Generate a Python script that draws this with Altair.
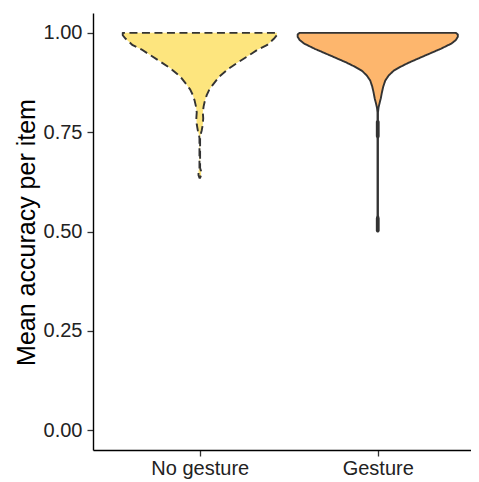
import altair as alt
import pandas as pd

categories = ["No gesture", "Gesture"]
positions = [1, 2]

# Violin outline: accuracy level and relative half-width (1 = widest)
nog_acc = [1.000, 0.994, 0.985, 0.969, 0.958, 0.948, 0.927, 0.910, 0.890, 0.869,
           0.857, 0.844, 0.830, 0.815, 0.800, 0.785, 0.770, 0.755, 0.745, 0.735,
           0.660, 0.652, 0.642, 0.635]
nog_width = [0.962, 0.962, 0.925, 0.838, 0.725, 0.650, 0.488, 0.362, 0.244, 0.162,
             0.119, 0.088, 0.065, 0.048, 0.038, 0.043, 0.038, 0.025, 0.012, 0.004,
             0.004, 0.016, 0.016, 0.004]

ges_acc = [1.000, 0.996, 0.990, 0.982, 0.973, 0.960, 0.948, 0.936, 0.925, 0.915,
           0.905, 0.893, 0.880, 0.865, 0.850, 0.835, 0.825, 0.812, 0.800, 0.780,
           0.776, 0.740, 0.735, 0.540, 0.533, 0.502, 0.500]
ges_width = [0.975, 1.000, 1.000, 0.975, 0.919, 0.788, 0.650, 0.512, 0.388, 0.288,
             0.200, 0.138, 0.094, 0.069, 0.052, 0.038, 0.025, 0.010, 0.003, 0.003,
             0.012, 0.012, 0.003, 0.003, 0.012, 0.012, 0.006]

fill_colors = ["#FDE57E", "#FDB66D"]
stroke_color = "#333333"
dashes = [[8, 4.5], [1, 0]]

acc_lists = [nog_acc, ges_acc]
width_lists = [nog_width, ges_width]

label_expr = " : ".join(
    [f"datum.value == {p} ? '{c}'" for p, c in zip(positions, categories)]
) + " : ''"

x_scale = alt.Scale(domain=[0.4, 2.524], nice=False, zero=False)
y_scale = alt.Scale(domain=[-0.05, 1.05], nice=False, zero=False)

layers = []
for i, cat in enumerate(categories):
    df = pd.DataFrame({
        "pos": positions[i],
        "acc": acc_lists[i],
        "w": width_lists[i],
    })
    layer = (
        alt.Chart(df)
        .transform_calculate(
            left="datum.pos - 0.45 * datum.w",
            right="datum.pos + 0.45 * datum.w",
        )
        .mark_area(
            orient="horizontal",
            fill=fill_colors[i],
            fillOpacity=1,
            stroke=stroke_color,
            strokeWidth=1.9,
            strokeDash=dashes[i],
            strokeJoin="round",
        )
        .encode(
            y=alt.Y("acc:Q", scale=y_scale,
                    axis=alt.Axis(values=[0, 0.25, 0.5, 0.75, 1.0], format=".2f",
                                  title="Mean accuracy per item",
                                  titleX=-67, titleY=219, titleAngle=-90,
                                  titleAlign="center", titleBaseline="middle",
                                  labelPadding=5)),
            x=alt.X("left:Q", scale=x_scale,
                    axis=alt.Axis(values=positions, labelExpr=label_expr,
                                  title=None, labelPadding=2)),
            x2="right:Q",
        )
    )
    layers.append(layer)

chart = (
    alt.layer(*layers)
    .properties(
        width=378,
        height=437,
        autosize=alt.AutoSizeParams(type="none"),
        padding={"left": 85, "top": 5, "right": 0, "bottom": 31},
        background="white",
    )
    .configure_view(stroke=None)
    .configure_axis(
        grid=False,
        domainColor="black",
        domainWidth=1.4,
        tickColor=stroke_color,
        tickWidth=1.3,
        tickSize=6,
        labelFont="Liberation Sans",
        labelFontSize=20,
        labelColor="#222222",
        titleFont="Liberation Sans",
        titleFontSize=25,
        titleFontWeight="normal",
        titleColor="black",
    )
)

chart.save("out.html", embed_options={"renderer": "svg", "actions": False})
